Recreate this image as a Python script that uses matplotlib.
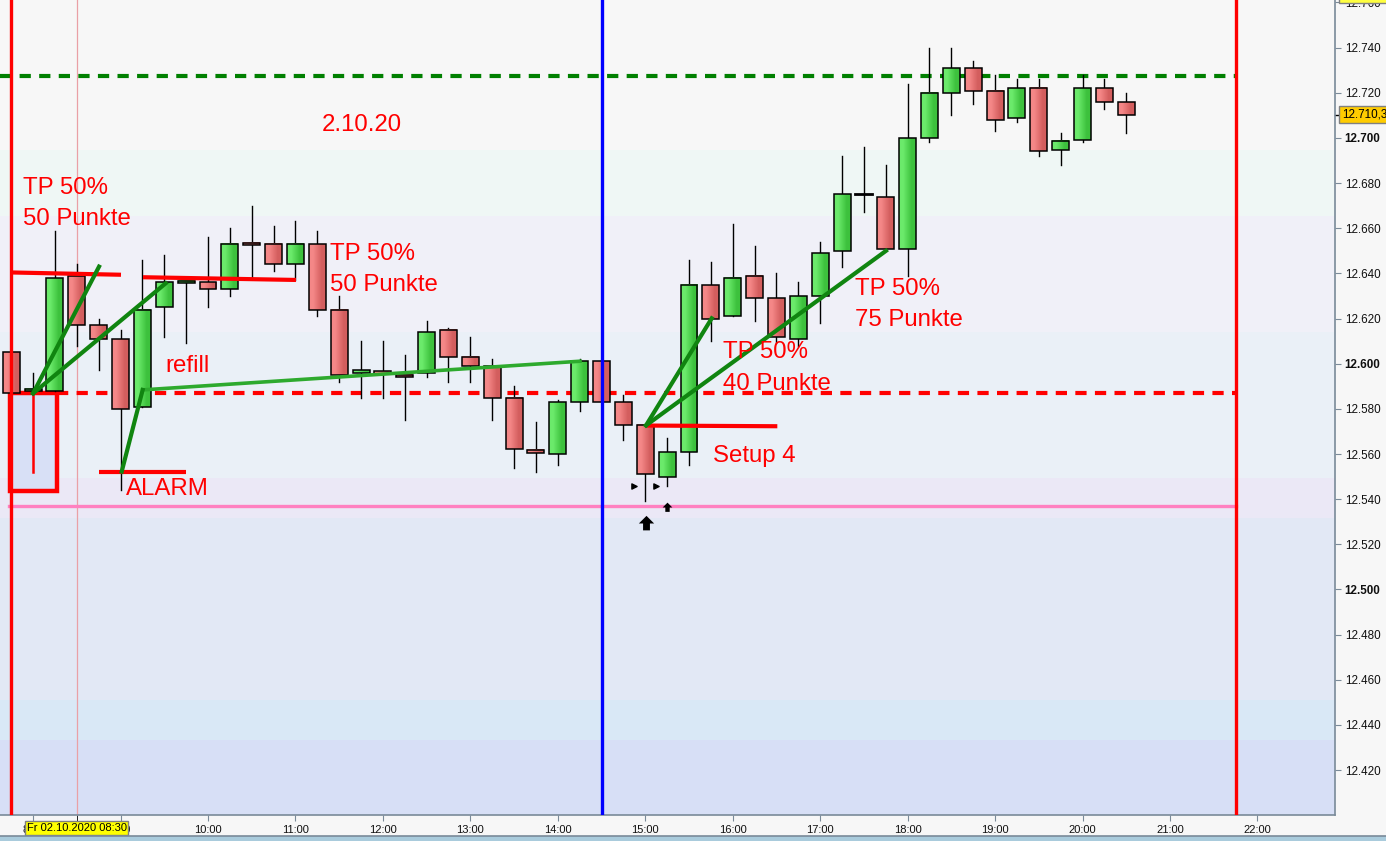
import numpy as np
import matplotlib
matplotlib.use("Agg")
import matplotlib.pyplot as plt
from matplotlib.patches import Rectangle
from matplotlib.transforms import blended_transform_factory

plt.rcParams["font.family"] = ["Liberation Sans", "DejaVu Sans"]

# =====================================================
# DATA  (15-min candles, 02.10.2020)
# =====================================================
times = ["07:45", "08:00", "08:15", "08:30", "08:45", "09:00", "09:15", "09:30", "09:45",
         "10:00", "10:15", "10:30", "10:45", "11:00", "11:15", "11:30", "11:45",
         "12:00", "12:15", "12:30", "12:45", "13:00", "13:15", "13:30", "13:45",
         "14:00", "14:15", "14:30", "14:45", "15:00", "15:15", "15:30", "15:45",
         "16:00", "16:15", "16:30", "16:45", "17:00", "17:15", "17:30", "17:45",
         "18:00", "18:15", "18:30", "18:45", "19:00", "19:15", "19:30", "19:45",
         "20:00", "20:15", "20:30"]
opens = [12605, 12588, 12588, 12639, 12617, 12611, 12581, 12625, 12635.6,
         12636, 12633, 12653.5, 12653, 12644, 12653, 12624, 12595.8,
         12596.8, 12594.7, 12596, 12615, 12603, 12599, 12585, 12561.8,
         12560, 12583, 12601, 12583, 12573, 12550, 12561, 12635,
         12621, 12639, 12629, 12611, 12630, 12650, 12675, 12674,
         12651, 12700, 12720, 12731, 12721, 12709, 12722, 12694.5,
         12699, 12722, 12716]
highs = [12606, 12596, 12659, 12644, 12620, 12615, 12646, 12648, 12637,
         12656, 12660, 12670, 12661, 12663, 12659, 12630, 12610,
         12610, 12604, 12619, 12616, 12612, 12602, 12590, 12574,
         12584, 12602, 12601, 12586, 12573, 12567, 12646, 12645,
         12662, 12652, 12640, 12636, 12654, 12692, 12696, 12688,
         12724, 12740, 12740, 12734, 12728, 12726, 12726, 12702,
         12728, 12726, 12720]
lows = [12586, 12587, 12588, 12608, 12597, 12544, 12581, 12612, 12609,
        12625, 12630, 12638, 12641, 12637, 12621, 12592, 12585,
        12585, 12575, 12594, 12592, 12592, 12575, 12554, 12552,
        12555, 12579, 12583, 12566, 12539, 12546, 12555, 12610,
        12621, 12619, 12609, 12608, 12618, 12643, 12667, 12651,
        12639, 12698, 12710, 12715, 12703, 12707, 12692, 12688,
        12698, 12713, 12702]
closes = [12587, 12589, 12638, 12617, 12611, 12580, 12624, 12636, 12636.4,
          12633, 12653, 12652.5, 12644, 12653, 12624, 12595, 12597,
          12595.5, 12594, 12614, 12603, 12599, 12585, 12562, 12560.3,
          12583, 12601, 12583, 12573, 12551, 12561, 12635, 12620,
          12638, 12629, 12612, 12630, 12649, 12675, 12675, 12651,
          12700, 12720, 12731, 12721, 12708, 12722, 12694, 12698.5,
          12722, 12716, 12710.3]
last_price = 12710.3

# background zones (price edges, top to bottom) and their colours
zone_edges = [12761, 12694.7, 12665.4, 12614.1, 12549.4, 12531.7, 12451.1, 12433.3, 12400]
zone_colors = ["#f7f7f7", "#eff7f5", "#f0f0f8", "#eaf0f7", "#ebe8f6", "#e2e8f5", "#d9e8f6", "#d7dff6"]

# horizontal levels
green_level = 12727.3
red_level = 12587.0
pink_level = 12536.8

# session lines
session_start = "07:45"
session_end = "21:45"
blue_time = "14:30"
cursor_time = "08:30"

# drawn trendlines: (t0, p0, t1, p1)
red_segments = [(7.77, 12640.4, 9.005, 12639.4),
                (9.257, 12638.3, 11.006, 12637.1),
                (8.754, 12552.2, 9.749, 12552.2),
                (15.02, 12572.6, 16.51, 12572.3)]
green_segments = [(8.00, 12586.9, 8.754, 12643.0),
                  (8.00, 12586.9, 9.516, 12635.6),
                  (9.013, 12552.2, 9.253, 12588.4),
                  (15.009, 12572.7, 15.760, 12620.1),
                  (15.009, 12572.7, 17.753, 12650.0)]
lightgreen_segment = (9.253, 12588.4, 14.254, 12601.1)
red_wick_mark = (8.0, 12587.0, 12552.0)
box_rect = (7.736, 12543.6, 8.273, 12587.0)  # t0, p0, t1, p1

# signal markers
tri_times = [14.871, 15.119]
tri_prices = [12545.8, 12545.8]
arrow_times = [15.005, 15.252]
arrow_prices = [12529.5, 12536.5]
arrow_sizes = [11, 7]

# texts: (t, price, text)
labels = [(11.30, 12705.8, "2.10.20"),
          (7.885, 12677.9, "TP 50%"),
          (7.885, 12664.1, "50 Punkte"),
          (11.395, 12648.6, "TP 50%"),
          (11.395, 12634.9, "50 Punkte"),
          (9.508, 12599.0, "refill"),
          (9.062, 12544.5, "ALARM"),
          (15.889, 12605.2, "TP 50%"),
          (15.889, 12591.0, "40 Punkte"),
          (15.775, 12559.1, "Setup 4"),
          (17.399, 12633.1, "TP 50%"),
          (17.399, 12619.4, "75 Punkte")]

y_ticks = list(range(12420, 12761, 20))
x_hours = list(range(8, 23))


def to_h(s):
    hh, mm = s.split(":")
    return int(hh) + int(mm) / 60.0


t = np.array([to_h(s) for s in times])
o = np.array(opens, dtype=float)
h = np.array(highs, dtype=float)
l = np.array(lows, dtype=float)
c = np.array(closes, dtype=float)

# =====================================================
# FIGURE
# =====================================================
W, H = 1386, 841
fig = plt.figure(figsize=(W / 100, H / 100), dpi=100)
fig.patch.set_facecolor("#f7f7f7")
ax = fig.add_axes([0, 26 / H, 1335 / W, 815 / H])

XMIN, XMAX = 7.6215, 22.887
YMIN, YMAX = 12400.1, 12761.1

for top, bot, col in zip(zone_edges[:-1], zone_edges[1:], zone_colors):
    ax.axhspan(bot, top, color=col, lw=0, zorder=0)

# red box + cursor line
bx0, bp0, bx1, bp1 = box_rect
ax.add_patch(Rectangle((bx0, bp0), bx1 - bx0, bp1 - bp0, fc="#d8e0f6",
                       ec="#ff0000", lw=3.2, zorder=1))
ax.axvline(to_h(cursor_time), color="#eaa0a6", lw=0.9, zorder=1)

# levels
ax.plot([XMIN, to_h(session_end)], [green_level] * 2, color="#008000", lw=3,
        ls=(0, (2.7, 2)), zorder=2)
ax.plot([bx1, to_h(session_end)], [red_level] * 2, color="#ff0000", lw=3,
        ls=(0, (2.7, 2)), zorder=2)
ax.plot([to_h(session_start) - 0.02, to_h(session_end)], [pink_level] * 2,
        color="#ff80c0", lw=2.4, zorder=2)

# candles
CW = 0.194
red_grad = np.array([[[0.96, 0.53, 0.53], [0.83, 0.37, 0.37]]])
green_grad = np.array([[[0.42, 0.92, 0.42], [0.24, 0.76, 0.24]]])
for ti, oi, hi, li, ci in zip(t, o, h, l, c):
    ax.plot([ti, ti], [li, hi], color="black", lw=1, zorder=3)
    lo_b, hi_b = min(oi, ci), max(oi, ci)
    if hi_b - lo_b < 0.2:
        ax.plot([ti - CW / 2, ti + CW / 2], [oi, oi], color="black", lw=2, zorder=4)
        continue
    hi_b = max(hi_b, lo_b + 0.9)
    grad = green_grad if ci > oi else red_grad
    ax.imshow(grad, extent=(ti - CW / 2, ti + CW / 2, lo_b, hi_b), aspect="auto",
              interpolation="bilinear", zorder=4)
    ax.add_patch(Rectangle((ti - CW / 2, lo_b), CW, hi_b - lo_b, fc="none",
                           ec="black", lw=1.1, zorder=5))

# session verticals
ax.axvline(to_h(session_start), color="#ff0000", lw=2.4, zorder=6)
ax.axvline(to_h(session_end), color="#ff0000", lw=2.4, zorder=6)
ax.axvline(to_h(blue_time), color="#0000ff", lw=2.4, zorder=6)

# trendlines
for x0, y0, x1, y1 in red_segments:
    ax.plot([x0, x1], [y0, y1], color="#ff0000", lw=3, solid_capstyle="butt", zorder=7)
ax.plot([red_wick_mark[0]] * 2, red_wick_mark[1:], color="#ff0000", lw=1.8, zorder=7)
x0, y0, x1, y1 = lightgreen_segment
ax.plot([x0, x1], [y0, y1], color="#2eaa2e", lw=2.6, zorder=7)
for x0, y0, x1, y1 in green_segments:
    ax.plot([x0, x1], [y0, y1], color="#108510", lw=3, zorder=7)

# markers
ax.scatter(tri_times, tri_prices, marker=">", s=14, color="black", zorder=8)
arrow_verts = [(-1, 0), (0, 1), (1, 0), (0.45, 0), (0.45, -0.9), (-0.45, -0.9), (-0.45, 0), (-1, 0)]
for at, ap, sz in zip(arrow_times, arrow_prices, arrow_sizes):
    ax.plot([at], [ap], marker=arrow_verts, ms=sz, color="black", mec="none", zorder=8)

# texts
for tx, py, txt in labels:
    ax.text(tx, py, txt, color="#ff0000", fontsize=17.3, ha="left", va="center", zorder=9)

# =====================================================
# AXES
# =====================================================
ax.set_xlim(XMIN, XMAX)
ax.set_ylim(YMIN, YMAX)
for side in ["left", "top"]:
    ax.spines[side].set_visible(False)
for side in ["right", "bottom"]:
    ax.spines[side].set_color("#7a8a99")
    ax.spines[side].set_linewidth(1.2)

ax.yaxis.tick_right()
ax.set_yticks(y_ticks)
ax.set_yticklabels([f"{v // 1000}.{v % 1000:03d}" for v in y_ticks])
for v, lab in zip(y_ticks, ax.get_yticklabels()):
    if v % 100 == 0:
        lab.set_fontweight("bold")
ax.tick_params(axis="y", direction="out", length=4, color="#7a8a99", labelsize=8.4,
               pad=3, labelcolor="#101010")
ax.set_xticks(x_hours)
ax.set_xticklabels([f"{hh}:00" for hh in x_hours])
ax.tick_params(axis="x", direction="out", length=4, color="#7a8a99", labelsize=8,
               pad=3, labelcolor="#101010")
ax.set_xticks([to_h(cursor_time)], minor=True)
ax.tick_params(axis="x", which="minor", length=4, color="black")

# yellow labels
bt = blended_transform_factory(ax.transData, ax.transAxes)
ax.text(to_h(cursor_time), -0.016, "Fr 02.10.2020 08:30", transform=bt, ha="center",
        va="center", fontsize=8, color="black", zorder=20, clip_on=False,
        bbox=dict(boxstyle="square,pad=0.15", fc="#ffff00", ec="#808080", lw=1))
bt2 = blended_transform_factory(ax.transAxes, ax.transData)
ax.text(1.005, last_price, "12.710,3", transform=bt2, ha="left", va="center",
        fontsize=8.4, color="black", zorder=20, clip_on=False,
        bbox=dict(boxstyle="square,pad=0.2", fc="#ffcc00", ec="#808080", lw=1))
ax.plot([1.0, 1.005], [last_price] * 2, transform=bt2, color="black", lw=1, clip_on=False)
ax.text(1.005, 12763.6, "12.763,6", transform=bt2, ha="left", va="center",
        fontsize=8.4, color="black", zorder=20, clip_on=False,
        bbox=dict(boxstyle="square,pad=0.2", fc="#ffff40", ec="#808080", lw=1))

# status strip at the bottom
fig.add_artist(Rectangle((0, 0), 1, 5 / H, transform=fig.transFigure, fc="#a9cbdc",
                         ec="none"))
fig.add_artist(plt.Line2D([0, 1], [5.5 / H] * 2, transform=fig.transFigure,
                          color="#7a8a99", lw=1.2))

fig.savefig("out.png", dpi=100, facecolor=fig.get_facecolor())
plt.close(fig)
